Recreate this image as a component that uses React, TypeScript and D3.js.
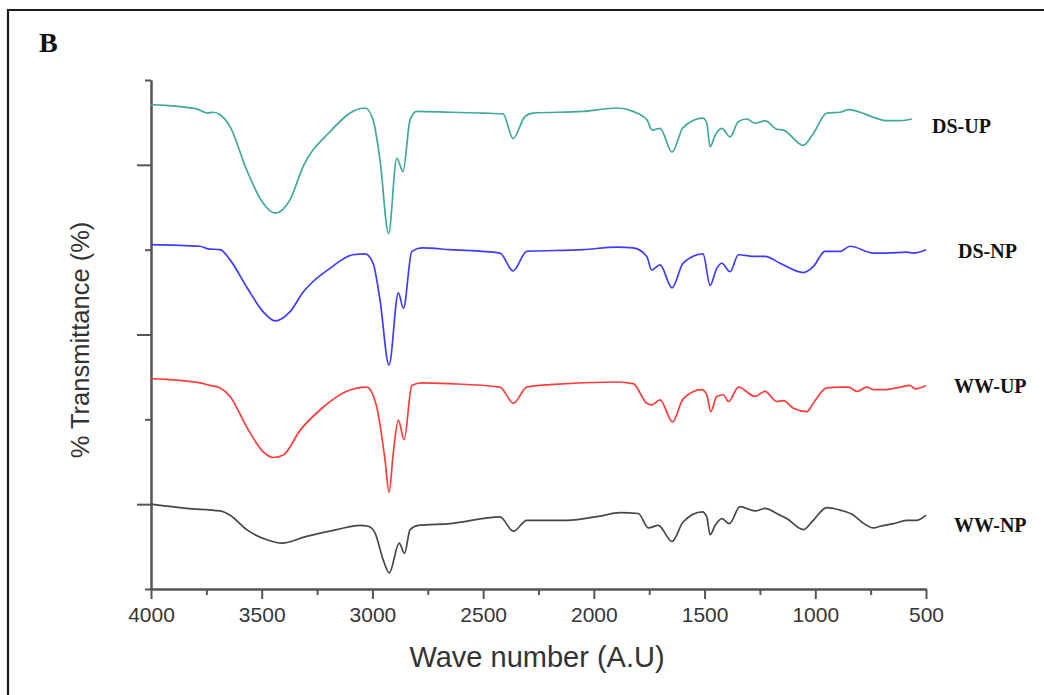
import React, { useEffect, useRef } from 'react';
import * as d3 from 'd3';

const WIDTH = 1044;
const HEIGHT = 695;

// [wave number (cm-1), transmittance (stacked, arbitrary units)]
const dsUp = [
    [4000, 57.1], [3794, 56.6], [3743, 56.1], [3720, 56.2], [3688, 55.9], [3643, 54.5], [3568, 49.4],
    [3494, 45.5], [3440, 44.3], [3372, 45.9], [3313, 49.8], [3192, 53.9], [3088, 56.3], [3033, 56.7],
    [2997, 55.3], [2966, 50.6], [2927, 41.9], [2890, 50.8], [2862, 49.2], [2830, 55.3], [2800, 56.3],
    [2649, 56.2], [2500, 56.1], [2410, 56.0], [2365, 53.1], [2311, 55.7], [2275, 56.1], [2049, 56.3],
    [1895, 56.7], [1823, 56.3], [1760, 55.3], [1737, 54.1], [1701, 54.3], [1647, 51.5], [1597, 54.4],
    [1507, 55.5], [1490, 54.9], [1475, 52.1], [1452, 53.5], [1422, 54.3], [1385, 53.3], [1347, 55.1],
    [1309, 55.4], [1272, 54.9], [1227, 55.2], [1174, 54.2], [1144, 54.1], [1054, 52.3], [1009, 53.7],
    [948, 56.1], [888, 56.2], [850, 56.5], [798, 56.2], [737, 55.6], [677, 55.2], [617, 55.2], [564, 55.4],
];
const dsNp = [
    [4000, 40.6], [3779, 40.4], [3743, 40.1], [3688, 40.0], [3643, 38.8], [3568, 35.6], [3494, 32.7],
    [3440, 31.6], [3372, 32.7], [3313, 35.0], [3192, 37.8], [3088, 39.4], [3033, 39.5], [2997, 38.4],
    [2966, 34.1], [2925, 26.4], [2883, 34.9], [2860, 33.1], [2822, 39.8], [2777, 40.2], [2649, 40.0],
    [2424, 39.6], [2365, 37.5], [2303, 39.8], [2049, 40.0], [1895, 40.3], [1823, 40.2], [1761, 39.2],
    [1739, 37.6], [1701, 38.2], [1647, 35.5], [1597, 38.4], [1507, 39.5], [1475, 35.8], [1445, 37.8],
    [1422, 38.4], [1385, 37.4], [1347, 39.4], [1272, 39.2], [1227, 39.2], [1159, 38.4], [1054, 37.3],
    [1009, 38.0], [956, 39.8], [888, 39.8], [843, 40.4], [737, 39.6], [677, 39.6], [587, 39.7],
    [557, 39.6], [500, 40.0],
];
const wwUp = [
    [4000, 24.8], [3779, 24.3], [3734, 24.0], [3688, 23.7], [3643, 22.7], [3568, 19.1], [3494, 16.2],
    [3448, 15.5], [3402, 15.8], [3327, 18.7], [3237, 21.1], [3116, 23.3], [3026, 23.8], [2981, 21.5],
    [2943, 15.2], [2925, 11.4], [2906, 16.0], [2883, 19.9], [2857, 17.6], [2822, 24.0], [2777, 24.3],
    [2649, 24.2], [2424, 23.8], [2363, 21.9], [2303, 23.8], [2198, 24.1], [1897, 24.4], [1823, 24.2],
    [1761, 21.9], [1739, 21.7], [1701, 22.3], [1645, 19.7], [1597, 22.4], [1513, 23.5], [1490, 22.9],
    [1472, 20.9], [1445, 22.7], [1415, 22.9], [1392, 22.1], [1347, 23.8], [1272, 22.7], [1227, 23.3],
    [1174, 22.1], [1144, 22.2], [1099, 21.3], [1038, 20.9], [1009, 21.9], [948, 23.7], [888, 23.8],
    [850, 23.8], [812, 23.3], [767, 23.8], [737, 23.5], [692, 23.5], [617, 23.8], [572, 24.0],
    [549, 23.6], [500, 24.0],
];
const wwNp = [
    [4000, 10.0], [3839, 9.5], [3688, 9.2], [3643, 8.7], [3568, 7.0], [3477, 5.8], [3410, 5.4],
    [3297, 6.2], [3161, 7.0], [3056, 7.5], [3019, 7.4], [2988, 6.6], [2951, 3.4], [2924, 1.9],
    [2879, 5.4], [2855, 4.2], [2830, 7.0], [2793, 7.5], [2649, 7.7], [2424, 8.5], [2363, 6.8],
    [2303, 8.1], [2122, 8.1], [1972, 8.6], [1882, 9.0], [1799, 8.9], [1754, 7.2], [1709, 7.5],
    [1647, 5.6], [1597, 7.9], [1510, 9.1], [1490, 8.5], [1475, 6.4], [1452, 7.5], [1422, 8.3],
    [1388, 7.7], [1340, 9.7], [1272, 9.2], [1227, 9.5], [1174, 8.9], [1129, 8.3], [1054, 7.0],
    [1009, 8.1], [948, 9.6], [888, 9.3], [827, 8.7], [790, 7.9], [737, 7.2], [707, 7.4],
    [647, 7.7], [587, 8.1], [541, 8.1], [500, 8.7],
];

const seriesData = [dsUp, dsNp, wwUp, wwNp];
const seriesNames = ['DS-UP', 'DS-NP', 'WW-UP', 'WW-NP'];
const seriesColors = ['#3fa9a0', '#3c3cff', '#ff3c3c', '#474747'];

const xMajorTicks = [4000, 3500, 3000, 2500, 2000, 1500, 1000, 500];
const xMinorTicks = [3750, 3250, 2750, 2250, 1750, 1250, 750];
const yMajorTicks = [10, 30, 50];
const yMinorTicks = [0, 20, 40, 60];

// label placement (page pixels)
const labelX = [932, 958, 954, 954];
const labelY = [133, 258, 393, 532];

const App = () => {
    const svgRef = useRef(null);

    useEffect(() => {
        const svg = d3.select(svgRef.current);
        svg.selectAll('*').remove();

        const x = d3.scaleLinear().domain([4000, 500]).range([151, 926]);
        const y = d3.scaleLinear().domain([0, 60]).range([589, 80]);

        // panel frame (top + left only)
        svg.append('path')
            .attr('d', `M8,${HEIGHT} V10 H${WIDTH}`)
            .attr('fill', 'none')
            .attr('stroke', '#1c1c1c')
            .attr('stroke-width', 2.2);

        svg.append('text')
            .attr('x', 39)
            .attr('y', 52)
            .attr('font-family', "'Liberation Serif', 'Times New Roman', serif")
            .attr('font-weight', 'bold')
            .attr('font-size', 28)
            .attr('fill', '#111')
            .text('B');

        const styleAxis = (g) => {
            g.selectAll('path, line').attr('stroke', '#555').attr('stroke-width', 2);
            g.selectAll('text')
                .attr('font-family', "'Liberation Sans', Arial, sans-serif")
                .attr('font-size', 21)
                .attr('fill', '#353535');
        };

        // x axis
        svg.append('g')
            .attr('transform', 'translate(0, 589)')
            .call(d3.axisBottom(x).tickValues(xMinorTicks).tickSize(6).tickSizeOuter(0).tickFormat(() => ''))
            .call(styleAxis);
        svg.append('g')
            .attr('transform', 'translate(0, 589)')
            .call(d3.axisBottom(x).tickValues(xMajorTicks).tickSize(10).tickSizeOuter(0).tickPadding(8).tickFormat(d3.format('d')))
            .call(styleAxis);

        // y axis
        svg.append('g')
            .attr('transform', 'translate(151, 0)')
            .call(d3.axisLeft(y).tickValues(yMinorTicks).tickSize(6).tickSizeOuter(0).tickFormat(() => ''))
            .call(styleAxis);
        svg.append('g')
            .attr('transform', 'translate(151, 0)')
            .call(d3.axisLeft(y).tickValues(yMajorTicks).tickSize(14).tickSizeOuter(0).tickFormat(() => ''))
            .call(styleAxis);

        // axis titles
        svg.append('text')
            .attr('x', 537)
            .attr('y', 667)
            .attr('text-anchor', 'middle')
            .attr('font-family', "'Liberation Sans', Arial, sans-serif")
            .attr('font-size', 29)
            .attr('fill', '#333')
            .text('Wave number (A.U)');

        svg.append('text')
            .attr('transform', 'translate(89, 340) rotate(-90)')
            .attr('text-anchor', 'middle')
            .attr('font-family', "'Liberation Sans', Arial, sans-serif")
            .attr('font-size', 25.5)
            .attr('fill', '#333')
            .text('% Transmittance (%)');

        // spectra
        const line = d3.line()
            .x(d => x(d[0]))
            .y(d => y(d[1]))
            .curve(d3.curveMonotoneX);

        seriesData.forEach((data, i) => {
            svg.append('path')
                .datum(data)
                .attr('fill', 'none')
                .attr('stroke', seriesColors[i])
                .attr('stroke-width', 1.7)
                .attr('stroke-linejoin', 'round')
                .attr('d', line);

            svg.append('text')
                .attr('x', labelX[i])
                .attr('y', labelY[i])
                .attr('font-family', "'Liberation Serif', 'Times New Roman', serif")
                .attr('font-weight', 'bold')
                .attr('font-size', 20)
                .attr('fill', '#111')
                .text(seriesNames[i]);
        });
    }, []);

    return (
        <svg
            ref={svgRef}
            width={WIDTH}
            height={HEIGHT}
            style={{ position: 'absolute', left: 0, top: 0, background: '#fff' }}
        ></svg>
    );
};

export default App;
